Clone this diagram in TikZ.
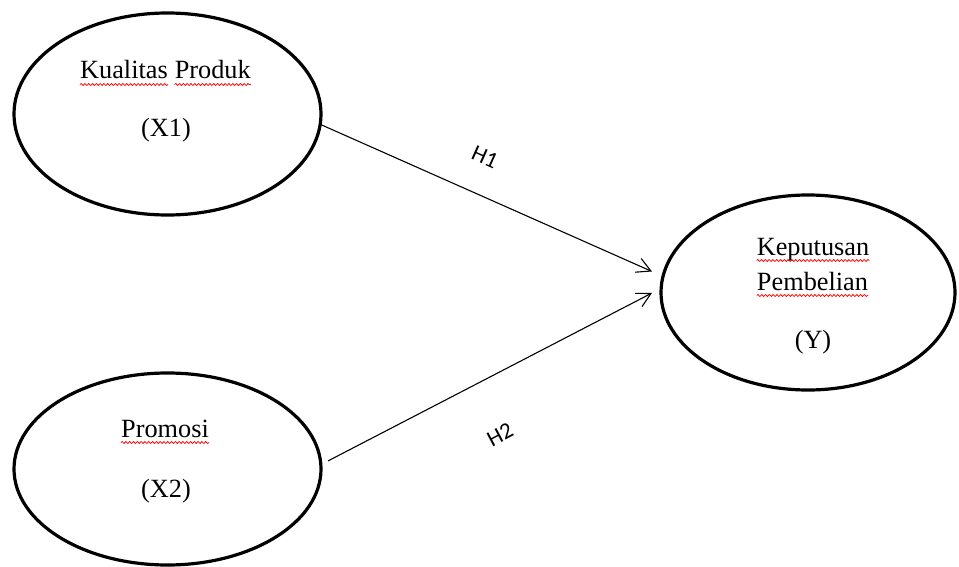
\documentclass[tikz,border=0pt]{standalone}
\usepackage{fontspec}
\setmainfont{Liberation Serif}
\newfontfamily\hypfont{Carlito}
\usetikzlibrary{shapes.geometric,arrows.meta,decorations.pathmorphing}

\tikzset{
  latent/.style={draw, ellipse, line width=3.2pt, inner sep=0pt},
  txt/.style={anchor=base, inner sep=0pt, font=\fontsize{26.3}{34}\selectfont},
  hyp/.style={inner sep=0pt, font=\fontsize{23}{27}\hypfont},
  path arrow/.style={line width=1.1pt, -{Straight Barb[length=14pt,width=15pt,line width=1.1pt]}},
  spellwave/.style={draw=red, line width=0.75pt, decorate,
    decoration={snake, amplitude=1pt, segment length=3.8pt}}
}

% wavy red line under a word node
\newcommand\underwave[1]{%
  \draw[spellwave] ([yshift=-5.5pt]#1.base west) -- ([yshift=-5.5pt]#1.base east);}

\begin{document}
\begin{tikzpicture}[x=1pt, y=-1pt]
  \useasboundingbox (0,0) rectangle (959,567);

  % constructs
  \node[latent, minimum width=307pt, minimum height=202pt] (x1) at (167.5,114) {};
  \node[latent, minimum width=307pt, minimum height=192pt] (x2) at (167.5,469) {};
  \node[latent, minimum width=294pt, minimum height=195pt] (y)  at (808,292.5) {};

  % labels inside the constructs
  \node[txt, anchor=base east] (kual) at (168,79)   {Kualitas};
  \node[txt, anchor=base west] (prod) at (174.6,79) {Produk};
  \node[txt] (x1code) at (166,137)   {(X1)};
  \node[txt] (prom)   at (165,437)   {Promosi};
  \node[txt] (x2code) at (166,497)   {(X2)};
  \node[txt] (kepu)   at (813,255)   {Keputusan};
  \node[txt] (pemb)   at (812.5,290) {Pembelian};
  \node[txt] (ycode)  at (813,348)   {(Y)};

  \underwave{kual}
  \underwave{prod}
  \underwave{prom}
  \underwave{kepu}
  \underwave{pemb}

  % arrow tips in front of the dependent construct
  \coordinate (t1) at (652,271.5);
  \coordinate (t2) at (652,293);

  % hypothesised paths
  \draw[path arrow] ([xshift=-0.5pt]x1.-4) -- (t1);
  \draw[path arrow] ([xshift=6pt]x2.3) -- (t2);

  \node[hyp, rotate=-24] (h1) at (485,157) {H1};
  \node[hyp, rotate=28]  (h2) at (500,435) {H2};
\end{tikzpicture}
\end{document}
